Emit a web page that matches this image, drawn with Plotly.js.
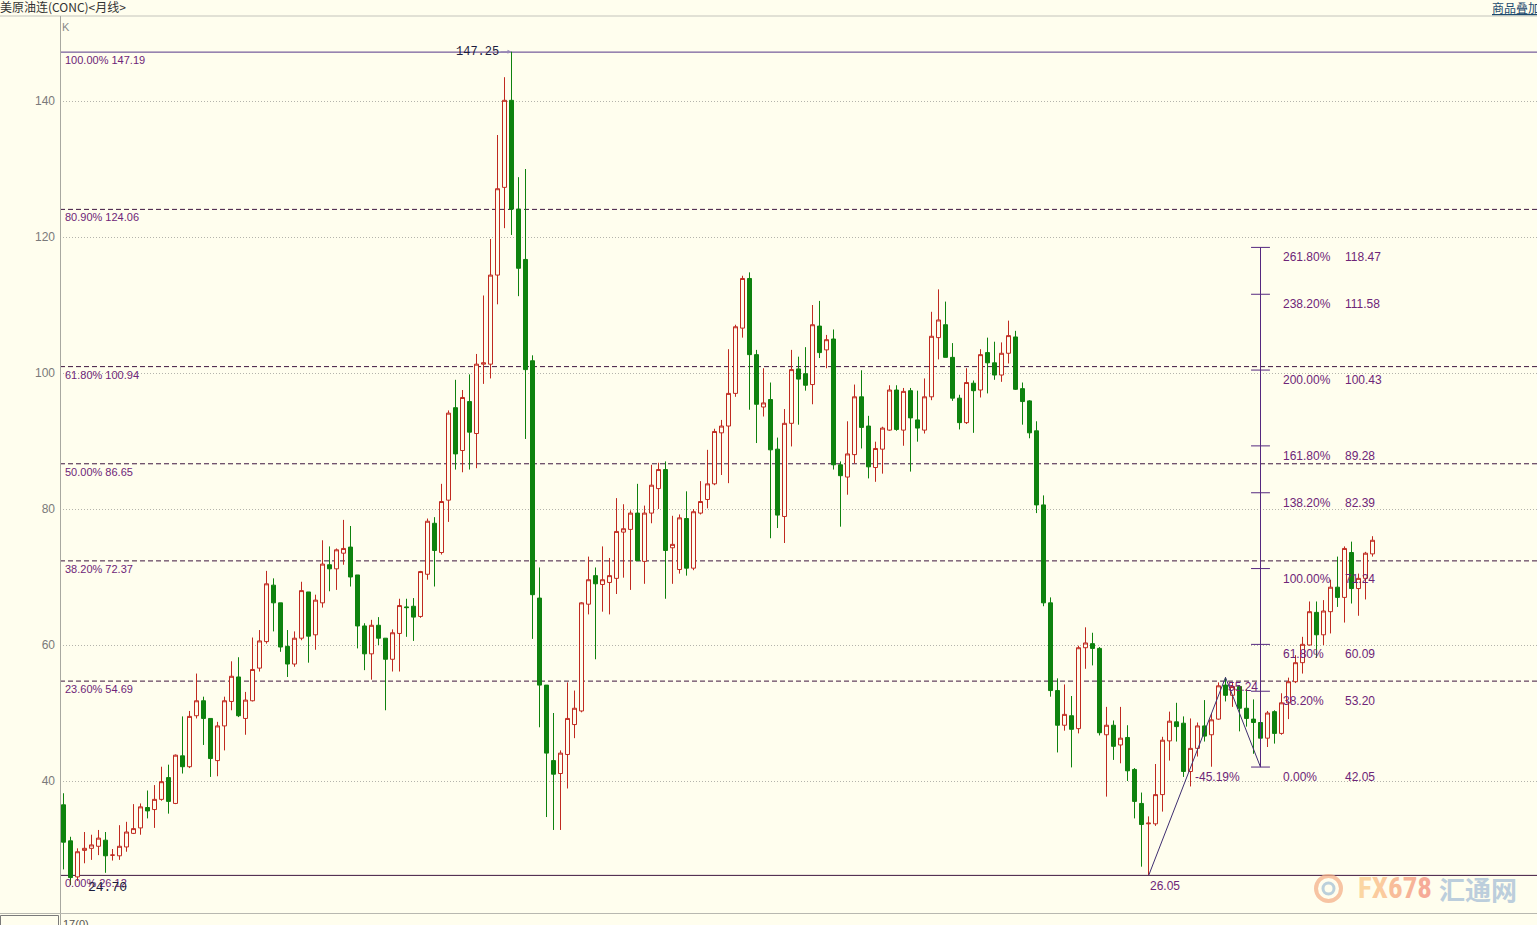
<!DOCTYPE html>
<html>
<head>
<meta charset="utf-8">
<script src="https://cdn.plot.ly/plotly-3.0.1.min.js"></script>
<style>
html,body{margin:0;padding:0;background:#fffeee;overflow:hidden}
#chart{width:1537px;height:925px}
</style>
</head>
<body>
<div id="chart"></div>
<script>
// ---------- data (monthly candles, Mar 2003 .. Oct 2018) ----------
const startYear = 2003, startMonth = 3;
const open = [
36.5,31.2,25.9,29.8,30.1,30.4,31.3,29.1,29.0,30.3,
32.3,33.1,36.1,35.8,37.3,40.5,36.7,43.7,42.1,49.6,
51.8,49.2,43.0,48.1,51.7,55.3,49.2,51.8,56.6,60.5,
68.8,66.2,59.8,57.2,61.0,67.8,61.5,66.2,71.8,71.2,
73.5,74.4,70.3,62.8,58.7,62.9,61.0,57.9,61.7,65.6,
65.7,64.2,70.4,77.9,73.6,81.3,94.9,88.6,95.8,91.1,
101.3,101.3,114.4,127.3,140.1,124.1,116.7,101.8,66.9,54.1,
43.0,41.1,43.9,48.3,50.3,66.0,70.2,68.9,69.2,69.8,
76.6,77.0,79.4,72.3,79.4,83.0,85.8,74.3,71.1,78.6,
71.3,79.4,81.4,83.7,91.2,92.2,97.0,106.6,113.9,102.7,
95.0,96.1,88.8,78.9,92.6,100.6,99.9,98.3,106.9,103.4,
105.0,86.5,84.7,88.0,96.5,92.2,86.1,88.8,91.6,97.5,
91.6,97.4,93.1,91.6,96.5,105.2,107.1,102.3,96.3,92.7,
98.5,97.5,103.0,101.5,99.7,102.9,105.3,97.7,95.9,91.5,
80.6,66.2,53.3,48.2,49.6,47.7,59.6,60.2,59.5,46.8,
48.2,45.3,46.4,41.7,36.7,33.7,33.7,38.0,45.9,48.7,
48.5,41.4,44.8,48.1,46.8,49.1,54.1,52.6,53.9,50.7,
49.1,48.6,46.3,50.2,47.0,51.5,54.6,57.4,60.0,64.8,
61.5,64.9,68.5,67.0,73.6,68.3,69.8,73.4];
const high = [
38.2,31.8,30.1,32.5,32.1,32.8,32.5,30.0,33.5,34.0,
36.6,36.7,38.6,39.4,42.1,42.4,43.9,49.5,50.3,55.8,
52.4,49.2,48.7,52.4,57.6,58.2,53.1,61.1,62.2,70.9,
69.8,66.2,62.2,62.0,69.3,67.8,67.4,75.4,74.5,74.2,
78.4,77.5,70.3,63.2,63.7,64.1,61.0,62.3,66.8,66.8,
66.9,70.9,78.6,78.8,83.7,94.5,99.0,97.5,99.8,102.8,
111.4,119.7,135.0,143.5,147.25,128.8,130.0,102.6,71.4,54.1,
50.0,44.5,54.5,53.3,66.3,73.0,71.4,74.5,72.8,81.6,
80.7,79.8,83.7,80.5,86.5,86.8,87.0,79.0,79.2,82.6,
80.0,84.1,88.7,91.8,93.1,103.5,107.1,114.3,114.8,103.4,
100.7,98.6,90.5,94.7,103.4,102.4,103.8,110.0,110.6,105.6,
106.4,87.0,92.9,98.3,100.4,93.7,89.9,92.1,98.2,98.2,
97.8,97.8,97.4,99.2,109.0,112.3,110.5,104.4,96.8,100.7,
98.9,103.5,105.2,104.6,104.5,107.7,106.2,98.6,96.0,92.9,
82.0,67.0,55.1,54.2,52.5,59.9,62.6,61.8,59.7,50.9,
48.9,50.9,48.2,41.9,38.3,34.8,42.5,46.5,50.2,51.5,
49.5,49.2,48.6,51.9,50.0,54.5,55.24,54.5,54.1,53.5,
52.0,49.1,50.3,50.4,52.9,55.2,58.5,61.2,66.4,66.4,
66.6,69.6,73.0,74.5,75.2,70.5,73.7,76.0];
const low = [
27.0,24.70,25.3,27.9,28.4,29.1,26.5,28.3,28.4,29.6,
32.2,32.1,34.5,33.1,37.1,35.2,36.6,41.1,41.9,49.2,
45.3,40.6,40.7,44.5,50.4,49.4,46.8,51.7,56.1,60.2,
62.0,59.0,55.3,56.8,60.7,57.4,59.3,65.5,67.9,68.1,
71.8,68.6,59.5,56.3,54.9,60.0,50.4,56.1,56.1,61.2,
60.6,64.0,69.6,68.6,73.3,78.1,85.8,85.4,85.8,86.0,
98.4,99.2,110.1,121.3,120.3,111.3,90.3,60.9,47.9,34.7,
32.8,32.8,38.9,46.3,50.1,64.5,57.9,64.9,64.5,67.5,
69.9,68.1,72.4,69.0,77.9,80.0,66.8,69.0,70.5,70.2,
71.0,79.2,80.1,83.5,85.0,83.8,96.5,105.2,94.6,89.7,
93.6,75.7,77.2,75.0,89.2,92.4,97.4,95.4,102.2,100.7,
85.8,77.4,82.1,86.7,88.9,84.5,84.0,85.2,91.5,91.5,
89.3,85.5,89.9,91.1,96.0,102.0,102.3,95.9,91.7,92.5,
91.2,96.4,97.0,99.0,98.7,101.4,97.5,92.4,90.4,79.4,
65.7,52.4,44.2,47.4,42.0,47.0,56.5,57.0,46.7,37.7,
43.1,42.6,40.0,34.5,27.4,26.05,33.4,35.5,43.0,45.8,
40.6,39.2,43.6,45.8,42.1,49.0,51.7,50.9,47.3,48.0,
44.0,42.05,45.0,45.5,46.8,49.1,54.4,55.8,59.9,58.1,
60.0,61.7,65.6,63.3,66.1,64.3,66.7,73.0];
const close = [
31.0,25.8,29.6,30.1,30.6,31.6,29.0,29.1,30.4,32.5,
33.0,36.2,35.6,37.3,39.9,37.0,43.8,42.1,49.5,51.8,
49.2,43.3,48.1,51.8,55.4,49.6,51.9,56.4,60.6,69.0,
66.2,59.7,57.2,61.0,68.0,61.3,66.6,71.9,71.2,74.0,
74.2,70.0,62.8,58.7,62.9,61.0,57.9,61.8,65.8,65.5,
64.1,70.8,78.2,73.9,81.1,94.1,88.1,96.4,91.3,101.3,
101.5,114.4,127.1,140.1,124.1,115.4,100.5,67.4,54.1,44.1,
41.0,44.1,49.2,50.7,66.2,69.6,69.0,69.6,70.2,76.7,
77.1,79.4,72.4,79.4,83.5,85.8,73.9,74.8,78.7,71.3,
79.6,81.1,83.7,91.4,92.2,97.0,106.8,113.9,102.7,95.4,
95.6,88.7,79.1,92.6,100.5,99.1,98.2,107.1,103.0,104.9,
86.5,84.9,88.1,96.5,92.0,86.2,88.9,91.9,97.5,91.7,
97.3,93.4,91.9,96.5,105.4,107.8,102.3,96.3,92.7,98.6,
97.4,102.7,101.5,99.7,102.9,105.5,97.6,95.8,91.2,80.6,
66.2,53.3,48.2,49.8,47.6,59.6,60.3,59.5,47.1,48.2,
45.1,46.3,41.5,37.0,33.6,33.8,38.0,46.0,48.8,48.0,
41.4,44.8,48.1,46.6,49.0,54.0,52.6,53.9,50.7,49.2,
48.6,46.3,50.0,47.0,51.5,54.6,57.4,60.1,64.9,61.5,
65.0,68.5,67.0,74.2,68.3,69.8,73.5,75.4];

const yTicks = [40, 60, 80, 100, 120, 140];

// Fibonacci retracement (whole range)
const fibPct = [100, 80.9, 61.8, 50, 38.2, 23.6, 0];
const fibVal = [147.19, 124.06, 100.94, 86.65, 72.37, 54.69, 26.12];

// Fibonacci extension (2016 low -> 2017 high -> 2017 low)
const swingMonths = ['2016-02', '2017-01', '2017-06'];
const swingVals = [26.05, 55.24, 42.05];
const retracePct = '-45.19%';
const extPct = [261.8, 238.2, 200, 161.8, 138.2, 100, 61.8, 38.2, 0];
const extVal = [118.47, 111.58, 100.43, 89.28, 82.39, 71.24, 60.09, 53.20, 42.05];

const peakLabel = '147.25';
const lowLabel = '24.70';

// ---------- derived ----------
const months = open.map((_, i) => {
  const m = startMonth - 1 + i;
  const y = startYear + Math.floor(m / 12);
  const mm = (m % 12) + 1;
  return y + '-' + (mm < 10 ? '0' + mm : mm);
});
const xs = months.map((_, i) => i);
const idx = m => months.indexOf(m);

const BG = '#fffeee';
const RED = '#c02a20';
const GREEN = '#0e820e';
const FIBLINE = '#3e163f';
const FIBTOP = '#55378a';
const PURPLE = '#6e2578';
const EXTLINE = '#55287f';
const SANS = 'Liberation Sans, Arial, sans-serif';
const MONO = 'Liberation Mono, DejaVu Sans Mono, monospace';

// plot box in pixels
const W = 1537, H = 925, L = 60, T = 16, B = 12;
const pw = W - L, ph = H - T - B;
const pxX = px => (px - L) / pw;           // page x -> paper
const pxY = py => (H - B - py) / ph;       // page y -> paper
const pxPerUnit = 7;                       // candle spacing
const xMin = -3.5 / pxPerUnit;
const pxPerVal = 6.8;
const yMin = 20.588;

const traces = [];
traces.push({
  type: 'candlestick', x: xs, open: open, high: high, low: low, close: close,
  increasing: {line: {color: RED, width: 1}, fillcolor: BG},
  decreasing: {line: {color: GREEN, width: 1}, fillcolor: GREEN},
  whiskerwidth: 0, hoverinfo: 'skip', showlegend: false
});

// extension construction
const sx = swingMonths.map(idx);
const anchor = sx[2];
traces.push({
  type: 'scatter', mode: 'lines', x: sx, y: swingVals,
  line: {color: '#3e2e70', width: 1}, hoverinfo: 'skip', showlegend: false
});
traces.push({
  type: 'scatter', mode: 'lines', x: [anchor, anchor],
  y: [Math.min.apply(null, extVal), Math.max.apply(null, extVal)],
  line: {color: EXTLINE, width: 1}, hoverinfo: 'skip', showlegend: false
});
const tx = [], ty = [];
const half = 1.35;
extVal.forEach(v => { tx.push(anchor - half, anchor + half, null); ty.push(v, v, null); });
traces.push({
  type: 'scatter', mode: 'lines', x: tx, y: ty,
  line: {color: EXTLINE, width: 1}, hoverinfo: 'skip', showlegend: false
});

const shapes = [];
fibVal.forEach((v, i) => {
  const solid = fibPct[i] === 0 || fibPct[i] === 100;
  shapes.push({
    type: 'line', xref: 'paper', x0: 0, x1: 1, yref: 'y', y0: v, y1: v, layer: 'below',
    line: {color: fibPct[i] === 100 ? FIBTOP : FIBLINE, width: 1, dash: solid ? 'solid' : '5px,3px'}
  });
});
// frame decorations
shapes.push({type: 'line', xref: 'paper', yref: 'paper', x0: pxX(0), x1: 1, y0: 1, y1: 1,
  line: {color: '#c4c4bc', width: 1}});
shapes.push({type: 'line', xref: 'paper', yref: 'paper', x0: pxX(60.5), x1: pxX(60.5), y0: 1, y1: pxY(925),
  line: {color: '#a8a8a0', width: 1}});
shapes.push({type: 'line', xref: 'paper', yref: 'paper', x0: pxX(0), x1: 1, y0: pxY(913.5), y1: pxY(913.5),
  line: {color: '#b8b8b0', width: 1}});
shapes.push({type: 'rect', xref: 'paper', yref: 'paper', x0: pxX(0.5), x1: pxX(58.5), y0: pxY(915.5), y1: pxY(930),
  line: {color: '#7a7a7a', width: 1}, fillcolor: 'rgba(0,0,0,0)'});
// watermark logo
shapes.push({type: 'circle', xref: 'paper', yref: 'paper', x0: pxX(1316), x1: pxX(1341), y0: pxY(901), y1: pxY(876),
  line: {color: 'rgba(244,176,138,0.75)', width: 4}});
shapes.push({type: 'circle', xref: 'paper', yref: 'paper', x0: pxX(1323), x1: pxX(1334), y0: pxY(894), y1: pxY(883),
  line: {color: 'rgba(170,196,214,0.8)', width: 3}});

const ann = [];
fibVal.forEach((v, i) => {
  ann.push({xref: 'paper', x: 0, xanchor: 'left', xshift: 3, yref: 'y', y: v, yanchor: 'top', yshift: 0,
    text: fibPct[i].toFixed(2) + '% ' + v.toFixed(2), showarrow: false,
    font: {family: SANS, size: 11, color: PURPLE}});
});
extVal.forEach((v, i) => {
  ann.push({xref: 'x', x: anchor, xanchor: 'left', xshift: 20, yref: 'y', y: v, yanchor: 'top', yshift: -1,
    text: extPct[i].toFixed(2) + '%', showarrow: false, font: {family: SANS, size: 12, color: PURPLE}});
  ann.push({xref: 'x', x: anchor, xanchor: 'left', xshift: 82, yref: 'y', y: v, yanchor: 'top', yshift: -1,
    text: v.toFixed(2), showarrow: false, font: {family: SANS, size: 12, color: PURPLE}});
});
ann.push({xref: 'x', x: anchor, xanchor: 'right', xshift: -19, yref: 'y', y: swingVals[2], yanchor: 'top', yshift: -1,
  text: retracePct, showarrow: false, font: {family: SANS, size: 12, color: PURPLE}});
ann.push({xref: 'x', x: sx[1], xanchor: 'left', xshift: 0, yref: 'y', y: swingVals[1], yanchor: 'top', yshift: -1,
  text: swingVals[1].toFixed(2), showarrow: false, font: {family: SANS, size: 12, color: PURPLE}});
ann.push({xref: 'x', x: sx[0], xanchor: 'left', xshift: -1, yref: 'y', y: swingVals[0], yanchor: 'top', yshift: -1,
  text: swingVals[0].toFixed(2), showarrow: false, font: {family: SANS, size: 12, color: PURPLE}});

const hiIdx = high.indexOf(Math.max.apply(null, high));
const loIdx = low.indexOf(Math.min.apply(null, low));
ann.push({xref: 'x', x: hiIdx, yref: 'y', y: high[hiIdx], text: peakLabel, showarrow: true,
  arrowhead: 2, arrowsize: 0.8, arrowwidth: 1, arrowcolor: '#9a8ab8', ax: -34, ay: 0, standoff: 0,
  font: {family: MONO, size: 12, color: '#1c1c3c'}});
ann.push({xref: 'x', x: loIdx, xshift: 37, yref: 'y', y: low[loIdx], yanchor: 'middle', yshift: -2, text: lowLabel,
  showarrow: false, font: {family: MONO, size: 13, color: '#1c1c3c'}});

ann.push({xref: 'paper', x: pxX(60), xanchor: 'left', yref: 'paper', y: pxY(27), yanchor: 'middle',
  text: 'K', showarrow: false, font: {family: SANS, size: 11, color: '#8a8a8a'}});
ann.push({xref: 'paper', x: pxX(1490), xanchor: 'left', yref: 'paper', y: pxY(7), yanchor: 'middle',
  text: '<u>商品叠加</u>', showarrow: false, font: {family: 'Noto Sans CJK SC', size: 12, color: '#1d4a6e'}});
ann.push({xref: 'paper', x: pxX(61), xanchor: 'left', yref: 'paper', y: pxY(916), yanchor: 'top',
  text: '17(0)', showarrow: false, font: {family: SANS, size: 11, color: '#555'}});
// watermark
ann.push({xref: 'paper', x: pxX(1356), xanchor: 'left', yref: 'paper', y: pxY(888), yanchor: 'middle',
  text: '<span style="color:#fbd6a2">F</span><span style="color:#fbcb9e">X</span><span style="color:#f8bd9a">6</span><span style="color:#f7b398">7</span><span style="color:#f6ab98">8</span>',
  showarrow: false, font: {family: 'Liberation Sans Narrow, Roboto Condensed, Liberation Sans', size: 29, weight: 'bold', color: '#f8c09a'}});
ann.push({xref: 'paper', x: pxX(1437), xanchor: 'left', yref: 'paper', y: pxY(888), yanchor: 'middle',
  text: '汇通网', showarrow: false, font: {family: 'Noto Sans CJK SC', size: 26, weight: 'bold', color: '#bccedc'}});

const layout = {
  width: W, height: H,
  margin: {l: L, r: 0, t: T, b: B, pad: 0},
  paper_bgcolor: BG, plot_bgcolor: BG,
  showlegend: false, hovermode: false, dragmode: false,
  boxgap: 0.43, boxgroupgap: 0,
  title: {text: '美原油连(CONC)&lt;月线&gt;', x: 0, xref: 'container', xanchor: 'left',
    y: 1 - 8 / H, yref: 'container', yanchor: 'middle',
    font: {family: 'Noto Sans CJK SC', size: 12, color: '#333'}},
  xaxis: {range: [xMin, xMin + pw / pxPerUnit], showgrid: false, zeroline: false, showticklabels: false,
    ticks: '', showline: false, fixedrange: true, rangeslider: {visible: false}},
  yaxis: {range: [yMin, yMin + ph / pxPerVal], tickvals: yTicks, ticktext: yTicks.map(String),
    showgrid: true, gridcolor: '#b4b4ac', griddash: '1px,2px', gridwidth: 1,
    zeroline: false, showline: false, ticks: '', ticklabelstandoff: 4,
    tickfont: {family: SANS, size: 12, color: '#7a7a7a'}, fixedrange: true},
  shapes: shapes,
  annotations: ann
};

Plotly.newPlot('chart', traces, layout, {staticPlot: true, displayModeBar: false});
</script>
</body>
</html>
